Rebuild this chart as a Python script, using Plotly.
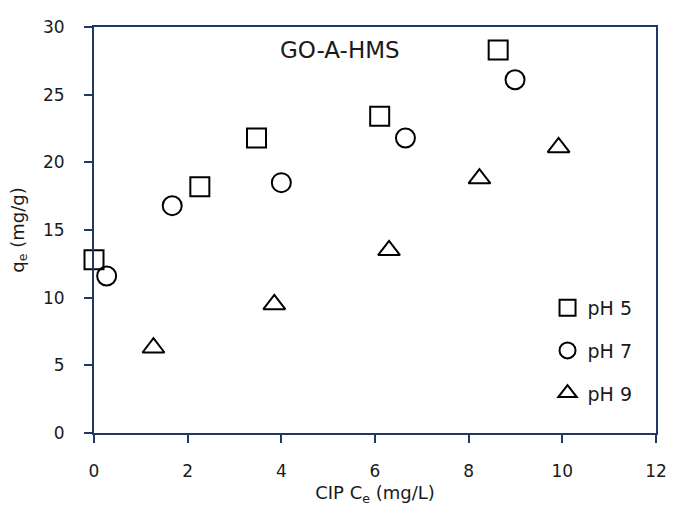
import plotly.graph_objects as go

# Equilibrium data: CIP Ce (mg/L) vs qe (mg/g) at three pH values
ce_ph5 = [0.0, 2.26, 3.47, 6.10, 8.63]
qe_ph5 = [12.8, 18.2, 21.8, 23.4, 28.3]

ce_ph7 = [0.27, 1.67, 4.00, 6.65, 8.99]
qe_ph7 = [11.6, 16.8, 18.5, 21.8, 26.1]

ce_ph9 = [1.27, 3.85, 6.30, 8.23, 9.92]
qe_ph9 = [6.3, 9.5, 13.5, 18.8, 21.1]

series = [
    ("pH 5", ce_ph5, qe_ph5, "square-open"),
    ("pH 7", ce_ph7, qe_ph7, "circle-open"),
    ("pH 9", ce_ph9, qe_ph9, "triangle-up-open"),
]

x_ticks = [0, 2, 4, 6, 8, 10, 12]
y_ticks = [0, 5, 10, 15, 20, 25, 30]

axis_color = "#1f3864"
text_color = "#1a1a1a"
font_family = "DejaVu Sans, Verdana, sans-serif"

fig = go.Figure()
for name, xs, ys, sym in series:
    fig.add_trace(go.Scatter(
        x=xs, y=ys, mode="markers", name=name, legendgroup=name,
        marker=dict(symbol=sym, size=19, color="black",
                    line=dict(color="black", width=2)),
        cliponaxis=False,
    ))

fig.add_annotation(
    text="GO-A-HMS", x=5.25, y=28.3, xref="x", yref="y",
    showarrow=False, font=dict(size=23, color=text_color, family=font_family),
)

fig.update_layout(
    width=679, height=516,
    margin=dict(l=94, r=16, t=27, b=83),
    paper_bgcolor="white", plot_bgcolor="white",
    font=dict(family=font_family, size=17, color=text_color),
    showlegend=True,
    legend=dict(
        x=0.807, y=0.355, xanchor="left", yanchor="top",
        bgcolor="rgba(0,0,0,0)", font=dict(size=19, color=text_color),
        tracegroupgap=15, traceorder="grouped",
    ),
    xaxis=dict(
        range=[0, 12], tickvals=x_ticks, ticktext=[str(v) for v in x_ticks],
        showgrid=False, zeroline=False,
        showline=True, linecolor=axis_color, linewidth=2, mirror=True,
        ticks="outside", ticklen=8, tickwidth=2, tickcolor=axis_color,
        ticklabelstandoff=14,
        tickfont=dict(size=17, color=text_color),
        title=dict(text="CIP C<sub>e</sub> (mg/L)", font=dict(size=18, color=text_color), standoff=6),
    ),
    yaxis=dict(
        range=[0, 30], tickvals=y_ticks, ticktext=[str(v) for v in y_ticks],
        showgrid=False, zeroline=False,
        showline=True, linecolor=axis_color, linewidth=2, mirror=True,
        ticks="outside", ticklen=8, tickwidth=2, tickcolor=axis_color,
        ticklabelstandoff=16,
        tickfont=dict(size=17, color=text_color),
        title=dict(text="q<sub>e</sub> (mg/g)", font=dict(size=18, color=text_color), standoff=14),
    ),
)

fig.write_html("out.html")
